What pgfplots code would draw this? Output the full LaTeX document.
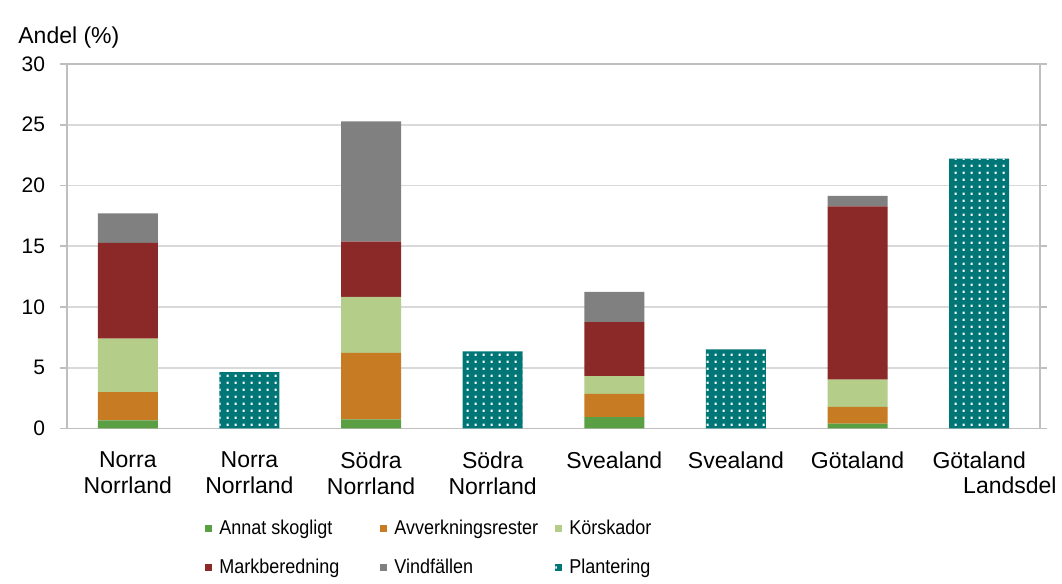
\documentclass[border=0pt]{standalone}
\usepackage{fontspec}
\setmainfont{Liberation Sans}
\usepackage{graphicx}
\usepackage{pgfplots}
\usepackage{pgfplotstable}
\pgfplotsset{compat=1.18}
\usetikzlibrary{patterns.meta}
\definecolor{annat}{HTML}{5B9F45}
\definecolor{avverk}{HTML}{C77B22}
\definecolor{korsk}{HTML}{B4CD88}
\definecolor{mark}{HTML}{8B2828}
\definecolor{vind}{HTML}{808080}
\definecolor{plant}{HTML}{007676}
\definecolor{gridgray}{HTML}{D9D9D9}
\definecolor{axisgray}{HTML}{BFBFBF}
\tikzdeclarepattern{name=wdots, type=uncolored,
  bottom left={(0pt,0pt)}, top right={(4pt,3.4pt)}, tile size={(4pt,3.4pt)},
  code={\fill (1.45pt,1.15pt) rectangle (2.55pt,2.25pt);}}
\pgfplotstableread{
x annat avverk korsk mark vind plant
0 0.66 2.33 4.41 7.88 2.42 0
1 0 0 0 0 0 4.63
2 0.76 5.47 4.60 4.55 9.89 0
3 0 0 0 0 0 6.34
4 0.94 1.92 1.45 4.44 2.49 0
5 0 0 0 0 0 6.52
6 0.41 1.37 2.25 14.26 0.86 0
7 0 0 0 0 0 22.21
}\data
\newcommand{\lb}[1]{\makebox[80pt][l]{\hspace{1.5pt}\scalebox{0.9}[1]{#1}}}
\begin{document}
\fontsize{11.5}{13}\selectfont
\begin{tikzpicture}
\path[use as bounding box] (-33.5pt,-77.75pt) rectangle (497.5pt,214.25pt);
\begin{axis}[
  scale only axis, width=486.5pt, height=182.25pt,
  ybar stacked, bar width=30pt,
  xmin=-0.5, xmax=7.5, ymin=0, ymax=30,
  ytick={0,5,...,30},
  xtick={0,...,7},
  xticklabels={{Norra\\Norrland},{Norra\\Norrland},{Södra\\Norrland},{Södra\\Norrland},{Svealand},{Svealand},{Götaland},{Götaland}},
  xticklabel style={align=center, font=\fontsize{11.5}{13}\selectfont, yshift=-4.3pt},
  yticklabel style={font=\fontsize{10.5}{12.5}\selectfont, xshift=-3.5pt},
  /pgf/number format/assume math mode=true,
  xtick style={draw=none},
  ytick style={draw=axisgray, line width=0.8pt},
  tick align=outside, major tick length=3.5pt,
  extra x ticks={-0.5,0.5,...,7.5},
  extra x tick labels={},
  extra x tick style={grid=none, tick style={draw=axisgray, line width=0.8pt}, major tick length=3.5pt},
  ymajorgrids, grid style={draw=gridgray, line width=0.8pt},
  axis line style={draw=axisgray, line width=0.8pt},
  legend columns=3,
  legend style={draw=none, fill=none, at={(0,0)}, anchor=north west, xshift=66pt, yshift=-41.5pt,
    font=\fontsize{10}{12}\selectfont,
    /tikz/every odd row/.append style={row sep=6.5pt}},
  legend image code/.code={\path[#1, draw=none] (0pt,-1.75pt) rectangle (3.5pt,1.75pt);},
]
\addplot[fill=annat, draw=none] table[x=x, y=annat] {\data};
\addplot[fill=avverk, draw=none] table[x=x, y=avverk] {\data};
\addplot[fill=korsk, draw=none] table[x=x, y=korsk] {\data};
\addplot[fill=mark, draw=none] table[x=x, y=mark] {\data};
\addplot[fill=vind, draw=none] table[x=x, y=vind] {\data};
\addplot[fill=plant, draw=none, postaction={pattern=wdots, pattern color=white}] table[x=x, y=plant] {\data};
\legend{\lb{Annat skogligt}, \lb{Avverkningsrester}, \lb{Körskador}, \lb{Markberedning}, \lb{Vindfällen}, \lb{Plantering}}
\end{axis}
\node[anchor=base east, inner sep=0pt] at (495pt,-32.4pt) {Landsdel};
\node[anchor=base west, inner sep=0pt] at (-24.5pt,192.5pt) {Andel (\%)};
\end{tikzpicture}
\end{document}
